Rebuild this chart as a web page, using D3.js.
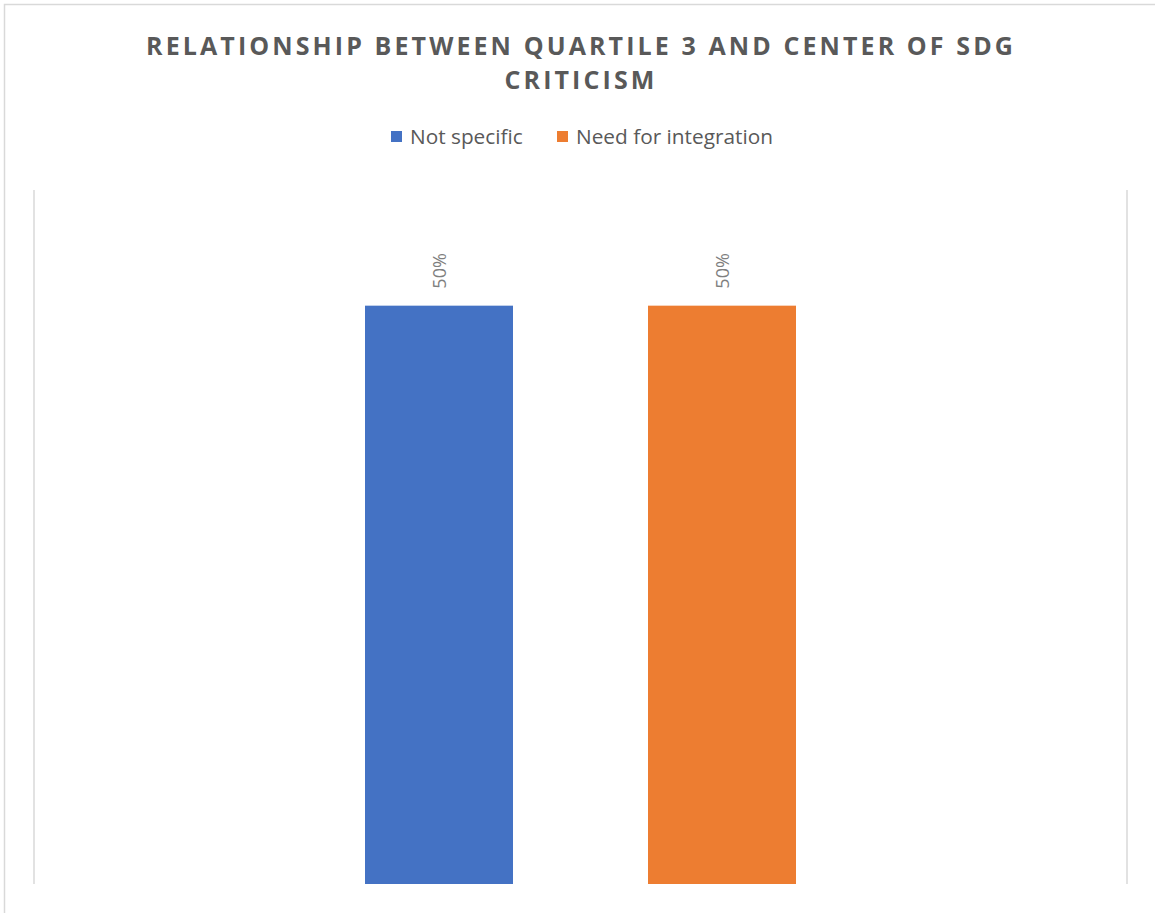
<!DOCTYPE html>
<html>
<head>
<meta charset="utf-8">
<script src="https://cdn.jsdelivr.net/npm/d3@7"></script>
<style>
  html, body { margin: 0; padding: 0; background: #fff; }
  svg { display: block; }
</style>
</head>
<body>
<svg id="chart" width="1155" height="913"></svg>
<script>
const titleLines = ["RELATIONSHIP BETWEEN QUARTILE 3 AND CENTER OF SDG", "CRITICISM"];
const categories = ["Q3"];
const seriesNames = ["Not specific", "Need for integration"];
const seriesColors = ["#4472C4", "#ED7D31"];
const seriesValues = [0.5, 0.5];
const yDomain = [0, 0.6];

const svg = d3.select("#chart");
const W = 1155, H = 913;
const font = "'Open Sans', 'Noto Sans', sans-serif";

// chart frame
svg.append("rect").attr("x", 4.5).attr("y", 4.5).attr("width", W + 10).attr("height", H + 10)
  .attr("fill", "#fff").attr("stroke", "#d9d9d9").attr("stroke-width", 1.5);

const plot = { left: 34, right: 1127, top: 190, bottom: 884 };

// title
svg.append("text")
  .attr("x", 580).attr("text-anchor", "middle")
  .attr("font-family", font).attr("font-weight", 700).attr("font-size", 25)
  .attr("letter-spacing", 3.1).attr("fill", "#595959")
  .selectAll("tspan").data(titleLines).join("tspan")
  .attr("x", 581).attr("y", (d, i) => 55 + i * 34).text(d => d);

// legend
const legendItems = [
  { name: seriesNames[0], color: seriesColors[0], x: 391 },
  { name: seriesNames[1], color: seriesColors[1], x: 557 }
];
const lg = svg.append("g");
legendItems.forEach(it => {
  lg.append("rect").attr("x", it.x).attr("y", 131).attr("width", 11).attr("height", 11).attr("fill", it.color);
  lg.append("text").attr("x", it.x + 19).attr("y", 144)
    .attr("font-family", font).attr("font-size", 20.8).attr("fill", "#595959").text(it.name);
});

// scales
const x0 = d3.scaleBand().domain(categories).range([plot.left, plot.right]).paddingInner(0).paddingOuter(0);
const x1 = d3.scaleBand().domain(seriesNames).range([365 - plot.left, 796 - plot.left])
  .paddingInner(135 / 283).paddingOuter(0);
const y = d3.scaleLinear().domain(yDomain).range([plot.bottom, plot.top]);

// vertical category gridlines at plot edges
svg.append("g").selectAll("line").data([plot.left, plot.right]).join("line")
  .attr("x1", d => d).attr("x2", d => d).attr("y1", plot.top).attr("y2", plot.bottom)
  .attr("stroke", "#d9d9d9").attr("stroke-width", 1.5);

// bars
const g = svg.append("g");
categories.forEach(cat => {
  seriesNames.forEach((s, i) => {
    const bx = x0(cat) + x1(s);
    g.append("rect")
      .attr("x", bx).attr("y", y(seriesValues[i]))
      .attr("width", x1.bandwidth()).attr("height", y(0) - y(seriesValues[i]))
      .attr("fill", seriesColors[i]);
    const cx = bx + x1.bandwidth() / 2;
    const ly = y(seriesValues[i]) - 17;
    g.append("text")
      .attr("transform", `translate(${cx + 7},${ly}) rotate(-90)`)
      .attr("font-family", font).attr("font-size", 18).attr("fill", "#7f7f7f")
      .text(d3.format(".0%")(seriesValues[i]));
  });
});
</script>
</body>
</html>
